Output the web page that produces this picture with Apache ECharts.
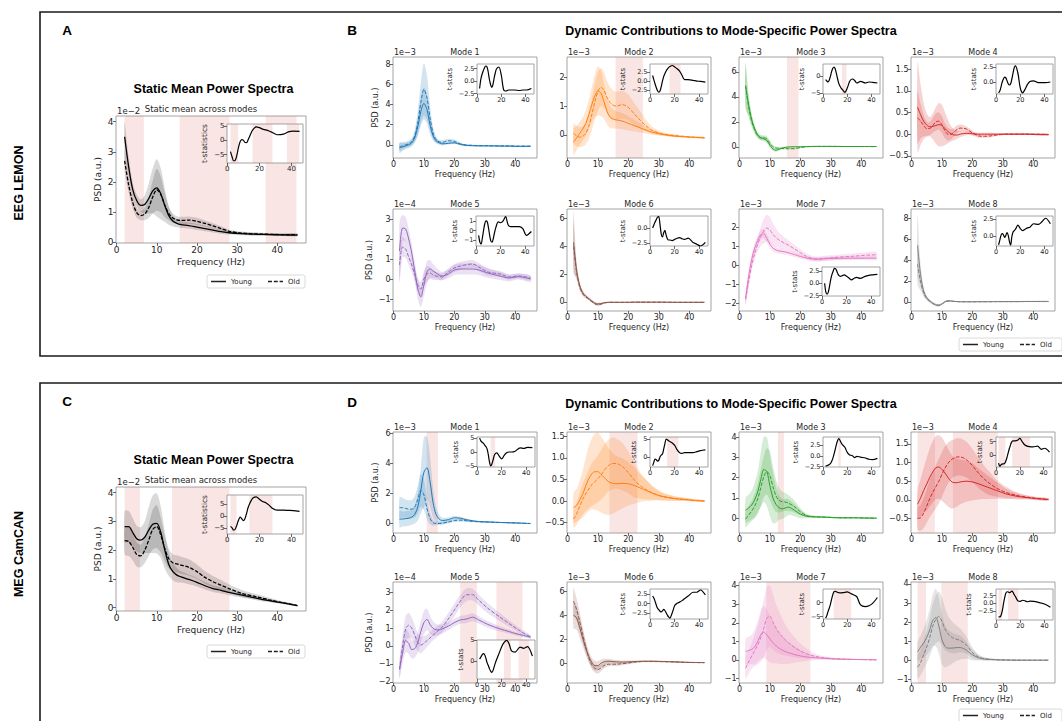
<!DOCTYPE html>
<html>
<head>
<meta charset="utf-8">
<script src="https://cdn.jsdelivr.net/npm/echarts@6.0.0/dist/echarts.min.js"></script>
<style>
  html, body { margin: 0; padding: 0; background: #ffffff; }
  #chart { width: 1062px; height: 721px; }
</style>
</head>
<body>
<div id="chart"></div>
<script>
// ---------- frequency grid and tick labels ----------
const freqs = [2,3,4,5,6,7,8,9,10,11,12,13,14,15,16,18,20,22,24,26,28,31,35,38,41,45];
const freqTicks = [0,10,20,30,40];
const insetFreqTicks = [0,20,40];
const groupNames = ['Young', 'Old'];

// ---------- EEG LEMON: static mean spectrum (x1e-2) ----------
const eegStaticYoung = [3.5,2.5,1.75,1.38,1.22,1.25,1.45,1.7,1.8,1.6,1.22,0.88,0.7,0.62,0.58,0.55,0.5,0.45,0.4,0.35,0.31,0.28,0.26,0.25,0.24,0.23];
const eegStaticOld = [2.7,1.9,1.32,0.98,0.88,0.93,1.15,1.5,1.74,1.58,1.22,0.95,0.8,0.74,0.72,0.73,0.69,0.62,0.54,0.45,0.36,0.3,0.27,0.26,0.25,0.25];
const eegStaticYoungSpread = [0.5,0.35,0.25,0.2,0.2,0.3,0.5,0.75,0.95,0.85,0.55,0.3,0.18,0.13,0.11,0.1,0.1,0.09,0.08,0.07,0.06,0.05,0.05,0.04,0.04,0.04];
const eegStaticOldSpread = [0.35,0.25,0.2,0.17,0.15,0.2,0.35,0.55,0.7,0.6,0.4,0.22,0.15,0.12,0.12,0.12,0.12,0.1,0.09,0.08,0.06,0.05,0.05,0.04,0.04,0.04];
const eegStaticT = [-4,-5.8,-7.2,-7,-5.2,-2.5,-0.5,0.3,0.1,-0.7,-0.8,0.2,1.5,2.8,3.8,4.8,4.5,4,3.7,3.3,2.8,2.0,2.2,3,3.3,3.2];
const eegStaticSig = [[2,6.8],[15.7,28.1],[37.1,44.8]];

// ---------- MEG CamCAN: static mean spectrum (x1e-2) ----------
const megStaticYoung = [2.82,2.82,2.62,2.4,2.35,2.45,2.7,2.9,2.93,2.62,2.0,1.5,1.25,1.13,1.07,0.98,0.88,0.76,0.66,0.6,0.53,0.44,0.32,0.24,0.17,0.07];
const megStaticOld = [2.33,2.3,2.1,1.85,1.8,2.0,2.35,2.72,2.82,2.52,2.05,1.7,1.56,1.52,1.48,1.4,1.25,1.05,0.9,0.78,0.66,0.5,0.37,0.27,0.18,0.07];
const megStaticYoungSpread = [0.55,0.55,0.5,0.45,0.45,0.55,0.8,1.0,1.05,0.9,0.65,0.4,0.3,0.25,0.2,0.17,0.15,0.13,0.12,0.11,0.1,0.09,0.07,0.05,0.04,0.02];
const megStaticOldSpread = [0.5,0.5,0.45,0.42,0.4,0.45,0.55,0.7,0.75,0.6,0.45,0.35,0.3,0.3,0.3,0.28,0.25,0.22,0.2,0.18,0.15,0.12,0.09,0.07,0.05,0.03];
const megStaticT = [-4.5,-5,-6,-5.5,-3.8,-1.8,-0.5,-1.2,-2,-1.2,1.0,3.5,5.2,6.5,7.5,8.0,7.0,6.0,5.5,4.5,3.2,2.4,2.4,2.3,2.2,1.9];
const megStaticSig = [[2,5.8],[13.8,28.1]];

// ---------- EEG LEMON: mode-specific spectra ----------
const eegM1Young = [-0.3,-0.2,-0.1,0.0,0.2,0.7,1.8,3.3,4.1,3.5,2.0,0.9,0.4,0.2,0.1,0.15,0.2,0.05,-0.05,-0.08,-0.1,-0.1,-0.12,-0.13,-0.15,-0.15];
const eegM1Old = [-0.2,-0.1,0.0,0.1,0.3,0.9,2.2,4.2,5.5,4.7,2.7,1.2,0.5,0.3,0.25,0.4,0.35,0.1,-0.02,-0.05,-0.07,-0.08,-0.1,-0.1,-0.12,-0.12];
const eegM1YoungSpread = [0.5,0.4,0.3,0.3,0.35,0.5,0.9,1.4,1.6,1.4,0.9,0.45,0.25,0.18,0.15,0.12,0.12,0.1,0.08,0.07,0.06,0.05,0.05,0.05,0.05,0.05];
const eegM1OldSpread = [0.4,0.35,0.3,0.3,0.35,0.6,1.2,2.0,2.6,2.2,1.3,0.6,0.3,0.2,0.2,0.2,0.18,0.12,0.08,0.07,0.06,0.05,0.05,0.05,0.05,0.05];
const eegM1T = [-1.5,0.3,1.3,2.0,2.6,3.0,2.9,2.0,0.5,-0.6,-1.3,-0.8,0.5,1.6,2.4,2.8,1.2,-1.8,-2.0,-1.8,-1.8,-1.8,-1.9,-1.8,-1.8,-1.5];
const eegM1Sig = [];

const eegM2Young = [-0.25,-0.1,0.05,0.2,0.4,0.7,1.05,1.35,1.52,1.45,1.15,0.82,0.62,0.55,0.52,0.48,0.4,0.32,0.24,0.16,0.09,0.02,-0.04,-0.06,-0.08,-0.1];
const eegM2Old = [0.05,-0.03,-0.08,-0.05,0.05,0.3,0.7,1.15,1.5,1.65,1.55,1.3,1.12,1.03,1.0,1.05,0.95,0.72,0.5,0.3,0.15,0.04,-0.02,-0.05,-0.08,-0.1];
const eegM2YoungSpread = [0.45,0.42,0.4,0.4,0.45,0.5,0.6,0.75,0.85,0.8,0.6,0.45,0.38,0.33,0.3,0.28,0.25,0.2,0.16,0.12,0.08,0.05,0.04,0.03,0.03,0.03];
const eegM2OldSpread = [0.35,0.35,0.35,0.35,0.38,0.45,0.55,0.62,0.68,0.66,0.62,0.57,0.55,0.52,0.5,0.48,0.45,0.38,0.3,0.2,0.12,0.06,0.04,0.03,0.03,0.03];
const eegM2T = [1.5,0.3,-0.8,-1.8,-2.6,-3.0,-2.7,-1.5,0,1.2,2.0,2.7,3.2,3.6,3.9,4.2,3.8,3.3,2.7,1.5,0.4,0.4,0.2,0.0,-0.1,-0.3];
const eegM2Sig = [[15.8,24.8]];

const eegM3Young = [4.9,3.4,2.2,1.45,0.95,0.72,0.65,0.5,0.12,-0.18,-0.28,-0.2,-0.1,-0.05,-0.02,0.0,0.0,0.02,0.03,0.03,0.03,0.03,0.02,0.02,0.02,0.02];
const eegM3Old = [4.9,3.2,2.05,1.35,0.88,0.72,0.72,0.62,0.3,0.0,-0.1,-0.12,-0.14,-0.15,-0.16,-0.15,-0.06,0.0,0.02,0.03,0.03,0.03,0.02,0.02,0.02,0.02];
const eegM3YoungSpread = [1.9,0.9,0.5,0.3,0.22,0.2,0.2,0.22,0.2,0.15,0.12,0.1,0.08,0.07,0.06,0.05,0.05,0.04,0.04,0.04,0.04,0.04,0.04,0.04,0.04,0.04];
const eegM3OldSpread = [1.6,0.8,0.45,0.3,0.2,0.18,0.2,0.22,0.2,0.15,0.12,0.1,0.08,0.07,0.06,0.05,0.05,0.04,0.04,0.04,0.04,0.04,0.04,0.04,0.04,0.04];
const eegM3T = [-1,-1.4,-1.7,-1.2,0,1.4,2.4,2.8,2.2,0.8,-0.8,-2.2,-3.0,-3.6,-4.0,-4.8,-3.5,-1.5,-0.8,-1.2,-2.0,-1.5,-2.0,-1.7,-1.8,-2.0];
const eegM3Sig = [[15.6,19.4]];

const eegM4Young = [0.62,0.45,0.3,0.21,0.17,0.18,0.2,0.22,0.2,0.13,0.06,0.01,-0.02,-0.02,0.0,0.02,0.01,0.0,0.0,0.0,0.0,0.0,0.0,0.0,-0.01,-0.01];
const eegM4Old = [0.38,0.3,0.2,0.13,0.13,0.2,0.28,0.3,0.22,0.08,0.0,0.0,0.05,0.11,0.14,0.12,0.03,-0.04,-0.05,-0.04,-0.02,0.0,0.0,0.0,0.0,-0.01];
const eegM4YoungSpread = [1.05,0.7,0.42,0.27,0.22,0.3,0.42,0.5,0.48,0.38,0.27,0.18,0.12,0.09,0.07,0.05,0.04,0.03,0.03,0.03,0.02,0.02,0.02,0.02,0.02,0.02];
const eegM4OldSpread = [0.6,0.4,0.25,0.17,0.15,0.17,0.2,0.2,0.2,0.17,0.15,0.12,0.1,0.09,0.08,0.06,0.05,0.04,0.03,0.03,0.02,0.02,0.02,0.02,0.02,0.02];
const eegM4T = [-1.8,-1.5,-0.8,0.0,0.5,0.8,0.7,0.2,-0.3,-0.5,-0.3,0.5,1.5,2.4,2.7,1.5,-1.0,-1.8,-1.2,-0.4,0.1,0.2,-0.1,-0.1,-0.1,0.0];
const eegM4Sig = [];

// mode 5 is in units of 1e-4
const eegM5Young = [1.4,2.55,2.5,2.0,1.3,0.4,-0.5,-0.9,-0.3,0.35,0.5,0.4,0.3,0.2,0.15,0.25,0.45,0.5,0.5,0.5,0.45,0.3,0.15,0.05,0.12,0.0];
const eegM5Old = [0.7,1.6,1.5,1.1,0.7,0.2,-0.3,-0.5,0.0,0.25,0.3,0.2,0.15,0.12,0.1,0.35,0.55,0.65,0.72,0.75,0.6,0.35,0.25,0.1,0.15,0.05];
const eegM5YoungSpread = [1.5,0.65,0.6,0.5,0.45,0.45,0.5,0.5,0.55,0.55,0.45,0.35,0.28,0.24,0.2,0.22,0.25,0.27,0.28,0.28,0.26,0.24,0.2,0.17,0.15,0.15];
const eegM5OldSpread = [0.9,0.5,0.45,0.4,0.35,0.35,0.35,0.35,0.4,0.4,0.3,0.25,0.2,0.18,0.17,0.18,0.2,0.2,0.2,0.2,0.2,0.18,0.15,0.13,0.12,0.12];
const eegM5T = [-0.5,-1.2,-1.4,-0.8,0.0,0.7,1.0,0.9,0.3,-0.5,-1.1,-1.2,-0.8,-0.2,0.3,0.9,0.8,1.0,1.45,0.6,0.4,0.4,0.4,0.2,-0.5,-0.1];
const eegM5Sig = [];

const eegM6Young = [4.3,2.3,1.2,0.68,0.42,0.25,0.07,-0.08,-0.14,-0.12,-0.06,-0.03,-0.02,-0.02,-0.02,-0.02,-0.02,-0.01,-0.01,-0.01,-0.01,-0.01,-0.02,-0.02,-0.02,-0.02];
const eegM6Old = [4.0,2.15,1.1,0.6,0.36,0.2,0.02,-0.13,-0.2,-0.16,-0.07,-0.04,-0.03,-0.03,-0.03,-0.03,-0.03,-0.02,-0.02,-0.02,-0.02,-0.02,-0.03,-0.03,-0.03,-0.03];
const eegM6YoungSpread = [2.2,0.6,0.3,0.17,0.12,0.1,0.1,0.1,0.1,0.08,0.06,0.05,0.04,0.04,0.03,0.03,0.03,0.03,0.03,0.03,0.03,0.03,0.03,0.03,0.03,0.03];
const eegM6OldSpread = [1.8,0.5,0.25,0.15,0.1,0.08,0.08,0.08,0.08,0.07,0.05,0.04,0.04,0.03,0.03,0.03,0.03,0.03,0.03,0.03,0.03,0.03,0.03,0.03,0.03,0.03];
const eegM6T = [0.0,0.5,1.0,1.4,1.8,1.9,0.6,-1.0,-1.5,-0.8,-0.4,-1.2,-1.8,-2.0,-2.0,-2.1,-1.9,-1.7,-1.6,-1.8,-1.9,-1.7,-2.4,-2.7,-3.0,-2.4];
const eegM6Sig = [];

const eegM7Young = [-1.75,-0.6,0.3,0.9,1.3,1.6,1.65,1.4,1.1,0.9,0.8,0.75,0.73,0.7,0.66,0.56,0.46,0.38,0.33,0.32,0.34,0.36,0.37,0.37,0.37,0.37];
const eegM7Old = [-1.8,-0.9,0.0,0.6,1.1,1.5,1.8,1.95,1.85,1.62,1.45,1.32,1.22,1.14,1.06,0.86,0.66,0.47,0.35,0.32,0.36,0.4,0.45,0.48,0.52,0.55];
const eegM7YoungSpread = [0.35,0.32,0.3,0.27,0.25,0.25,0.25,0.22,0.2,0.18,0.16,0.15,0.15,0.14,0.13,0.12,0.12,0.11,0.1,0.1,0.1,0.1,0.1,0.1,0.1,0.1];
const eegM7OldSpread = [0.3,0.3,0.3,0.32,0.38,0.5,0.65,0.7,0.68,0.58,0.48,0.4,0.35,0.3,0.27,0.22,0.18,0.15,0.14,0.14,0.14,0.14,0.14,0.15,0.15,0.15];
const eegM7T = [0.0,-1.8,-2.2,-1.8,-0.6,0.8,1.8,2.5,3.0,2.9,2.4,1.8,1.5,1.4,1.5,1.7,1.4,1.0,0.7,1.0,1.2,1.0,1.4,1.6,1.7,1.8];
const eegM7Sig = [];

const eegM8Young = [5.4,2.6,1.05,0.42,0.12,-0.12,-0.28,-0.33,-0.2,0.03,0.12,0.1,0.06,0.04,0.03,0.02,0.02,0.03,0.03,0.03,0.04,0.04,0.04,0.05,0.05,0.05];
const eegM8Old = [3.6,1.9,0.85,0.32,0.06,-0.14,-0.27,-0.3,-0.2,0.0,0.08,0.07,0.05,0.03,0.02,0.02,0.02,0.02,0.02,0.03,0.03,0.03,0.03,0.04,0.04,0.04];
const eegM8YoungSpread = [3.0,1.0,0.4,0.2,0.15,0.13,0.12,0.12,0.1,0.08,0.07,0.06,0.05,0.05,0.05,0.05,0.05,0.05,0.05,0.05,0.05,0.05,0.05,0.05,0.05,0.05];
const eegM8OldSpread = [2.0,0.8,0.35,0.18,0.13,0.12,0.12,0.12,0.1,0.08,0.07,0.06,0.05,0.05,0.05,0.05,0.05,0.05,0.05,0.05,0.05,0.05,0.05,0.05,0.05,0.05];
const eegM8T = [-1.3,-0.6,0.1,0.35,0.2,-0.2,0.1,0.5,0.1,-0.8,-1.3,-0.1,0.6,0.8,1.0,1.6,1.1,0.8,1.0,1.2,1.3,1.8,1.7,2.1,2.6,1.8];
const eegM8Sig = [];

// ---------- MEG CamCAN: mode-specific spectra ----------
const megM1Young = [0.28,0.3,0.32,0.35,0.42,0.6,1.1,2.2,3.4,3.7,2.8,1.4,0.6,0.3,0.2,0.25,0.38,0.35,0.25,0.18,0.13,0.1,0.07,0.05,0.03,0.0];
const megM1Old = [1.05,1.05,1.0,0.95,0.95,1.1,1.6,2.2,1.9,1.0,0.35,0.05,0.0,0.0,0.02,0.1,0.2,0.22,0.18,0.14,0.12,0.1,0.07,0.05,0.03,0.0];
const megM1YoungSpread = [0.55,0.5,0.5,0.5,0.5,0.6,0.9,1.5,2.3,2.1,1.7,1.0,0.5,0.3,0.2,0.15,0.12,0.1,0.08,0.06,0.05,0.04,0.03,0.03,0.02,0.02];
const megM1OldSpread = [0.7,0.65,0.6,0.6,0.6,0.7,0.9,1.1,1.0,0.7,0.4,0.2,0.12,0.1,0.1,0.1,0.1,0.1,0.08,0.06,0.05,0.04,0.03,0.03,0.02,0.02];
const megM1T = [5.0,4.0,3.5,3.2,2.6,2.0,1.2,-0.8,-3.5,-5.0,-4.3,-2.8,-1.2,-0.5,-0.3,-1.5,-2.5,-1.2,-0.3,0.0,0.0,0.3,1.5,1.3,1.7,1.6];
const megM1Sig = [[10.9,14.6]];

const megM2Young = [-0.15,-0.1,0.02,0.16,0.35,0.52,0.63,0.68,0.68,0.62,0.55,0.48,0.43,0.41,0.4,0.41,0.4,0.36,0.3,0.24,0.18,0.11,0.06,0.04,0.02,0.0];
const megM2Old = [-0.42,-0.3,-0.12,0.04,0.17,0.28,0.38,0.45,0.52,0.6,0.7,0.79,0.85,0.87,0.87,0.8,0.66,0.48,0.35,0.26,0.18,0.11,0.06,0.04,0.02,0.0];
const megM2YoungSpread = [0.35,0.38,0.45,0.55,0.65,0.75,0.82,0.88,0.9,0.88,0.85,0.8,0.75,0.7,0.65,0.58,0.5,0.42,0.32,0.24,0.17,0.1,0.06,0.04,0.03,0.02];
const megM2OldSpread = [0.2,0.25,0.3,0.35,0.4,0.45,0.5,0.52,0.55,0.57,0.6,0.6,0.6,0.6,0.58,0.55,0.48,0.4,0.3,0.22,0.15,0.09,0.05,0.04,0.03,0.02];
const megM2T = [-2.5,-1.5,-0.6,-0.8,-1.2,-1.0,0.0,0.5,0.8,2.2,3.8,5.1,4.9,4.6,4.4,4.0,3.3,2.0,1.2,1.0,1.2,1.2,1.2,1.5,1.8,2.0];
const megM2Sig = [[13.8,23.0]];

const megM3Young = [0.4,0.5,0.65,0.9,1.3,1.9,2.4,2.3,1.6,1.0,0.68,0.52,0.46,0.5,0.55,0.4,0.2,0.1,0.07,0.06,0.05,0.03,0.02,0.02,0.01,0.0];
const megM3Old = [-0.05,0.15,0.35,0.6,0.95,1.5,2.05,2.3,2.1,1.55,1.1,0.88,0.82,0.8,0.75,0.58,0.32,0.13,0.08,0.06,0.05,0.03,0.02,0.02,0.01,0.0];
const megM3YoungSpread = [0.6,0.65,0.7,0.85,1.0,1.35,1.6,1.7,1.5,1.25,0.9,0.6,0.5,0.45,0.4,0.3,0.2,0.1,0.06,0.05,0.04,0.03,0.03,0.02,0.02,0.02];
const megM3OldSpread = [0.4,0.45,0.5,0.6,0.75,0.9,1.0,1.15,1.2,1.0,0.8,0.6,0.5,0.45,0.4,0.3,0.18,0.08,0.05,0.04,0.04,0.03,0.03,0.02,0.02,0.02];
const megM3T = [-2.4,-2.3,-2.2,-2.0,-1.8,-1.3,-0.6,0.4,1.5,2.7,3.6,4.0,3.6,3.0,2.6,2.0,0.8,0.2,0.1,-0.4,-0.1,-0.3,-0.5,-0.8,-0.9,-0.6];
const megM3Sig = [[12.6,14.6]];

const megM4Young = [-0.12,0.05,0.25,0.42,0.6,0.75,0.86,0.88,0.82,0.72,0.6,0.5,0.46,0.46,0.48,0.5,0.48,0.43,0.37,0.31,0.25,0.16,0.09,0.06,0.03,0.01];
const megM4Old = [-0.5,-0.48,-0.36,-0.17,0.03,0.2,0.35,0.5,0.68,0.85,0.98,1.07,1.12,1.15,1.15,1.08,0.92,0.72,0.55,0.42,0.31,0.2,0.11,0.07,0.04,0.01];
const megM4YoungSpread = [0.4,0.5,0.6,0.7,0.78,0.82,0.85,0.85,0.85,0.82,0.78,0.73,0.68,0.64,0.6,0.55,0.5,0.42,0.35,0.28,0.22,0.14,0.08,0.05,0.04,0.03];
const megM4OldSpread = [0.3,0.35,0.4,0.45,0.5,0.55,0.58,0.6,0.6,0.58,0.55,0.52,0.5,0.5,0.5,0.48,0.45,0.4,0.35,0.3,0.22,0.15,0.08,0.05,0.04,0.03];
const megM4T = [-3.1,-4.3,-3.8,-3.5,-3.4,-3.3,-2.5,-1.2,0.5,2.2,3.6,4.8,5.3,5.3,5.3,5.5,6.2,5.0,3.8,3.3,3.1,3.0,3.3,2.1,2.5,1.0];
const megM4Sig = [[2,7.7],[13.6,28.4]];

// mode 5 is in units of 1e-4
const megM5Young = [-1.3,-0.4,0.3,0.15,-0.2,-0.15,0.2,0.8,1.3,1.48,1.2,0.98,0.9,0.9,0.95,1.1,1.3,1.45,1.5,1.6,1.45,1.2,0.95,0.8,0.65,0.5];
const megM5Old = [-1.3,0.0,0.95,1.15,1.0,0.6,0.2,0.05,0.15,0.3,0.45,0.6,0.75,0.9,1.05,1.5,2.0,2.5,2.85,2.85,2.55,2.1,1.6,1.25,0.9,0.5];
const megM5YoungSpread = [0.5,0.55,0.65,0.6,0.5,0.5,0.55,0.6,0.65,0.6,0.5,0.4,0.32,0.28,0.25,0.22,0.22,0.22,0.22,0.22,0.2,0.18,0.15,0.12,0.1,0.08];
const megM5OldSpread = [0.5,0.6,0.7,0.7,0.6,0.55,0.5,0.45,0.4,0.35,0.32,0.3,0.3,0.3,0.3,0.32,0.35,0.35,0.35,0.32,0.3,0.28,0.22,0.18,0.14,0.1];
const megM5T = [0.5,1.0,1.5,1.8,1.6,0.8,-0.3,-1.0,-1.8,-2.4,-2.7,-2.2,-1.2,-0.3,0.5,2.0,3.5,4.5,5.0,4.2,2.5,2.2,3.4,3.1,3.5,1.2];
const megM5Sig = [[21.9,27.4],[33.8,42.4]];

const megM6Young = [4.0,3.8,3.0,2.1,1.25,0.55,0.05,-0.22,-0.22,-0.02,0.1,0.15,0.15,0.12,0.1,0.08,0.1,0.12,0.14,0.15,0.15,0.13,0.1,0.07,0.05,0.03];
const megM6Old = [5.2,4.5,3.5,2.4,1.35,0.45,-0.15,-0.45,-0.55,-0.42,-0.22,-0.12,-0.1,-0.1,-0.1,-0.06,0.0,0.08,0.12,0.13,0.13,0.11,0.09,0.06,0.04,0.03];
const megM6YoungSpread = [1.1,1.0,0.85,0.7,0.55,0.45,0.4,0.4,0.38,0.32,0.26,0.2,0.18,0.17,0.16,0.14,0.12,0.1,0.08,0.07,0.06,0.05,0.05,0.04,0.04,0.03];
const megM6OldSpread = [1.1,0.95,0.8,0.65,0.5,0.4,0.35,0.35,0.35,0.3,0.25,0.2,0.17,0.16,0.15,0.13,0.11,0.1,0.08,0.07,0.06,0.05,0.05,0.04,0.04,0.03];
const megM6T = [2.0,1.5,0.6,-0.4,-1.2,-1.6,-2.0,-2.2,-1.9,-1.5,-1.8,-2.4,-3.0,-3.5,-3.8,-2.4,-0.5,0.1,0.4,0.8,1.3,2.0,3.0,3.0,3.6,2.3];
const megM6Sig = [];

const megM7Young = [0.45,0.5,0.56,0.7,1.0,1.35,1.5,1.35,1.12,0.92,0.76,0.63,0.53,0.45,0.39,0.29,0.21,0.16,0.12,0.1,0.08,0.05,0.03,0.02,0.01,0.0];
const megM7Old = [-0.45,-0.12,0.2,0.5,0.8,1.2,1.7,2.25,2.35,2.05,1.72,1.46,1.26,1.08,0.93,0.68,0.48,0.33,0.22,0.15,0.1,0.06,0.03,0.02,0.01,0.0];
const megM7YoungSpread = [0.7,0.75,0.8,0.95,1.1,1.3,1.4,1.35,1.25,1.1,0.95,0.85,0.75,0.68,0.6,0.45,0.32,0.22,0.15,0.1,0.08,0.05,0.04,0.03,0.02,0.02];
const megM7OldSpread = [0.6,0.65,0.7,0.85,1.05,1.3,1.55,1.7,1.65,1.5,1.3,1.15,1.0,0.85,0.72,0.55,0.4,0.28,0.18,0.12,0.08,0.05,0.04,0.03,0.02,0.02];
const megM7T = [-5.5,-4.6,-3.2,-2.0,-0.6,1.2,2.8,3.9,4.0,3.8,3.6,3.5,3.4,3.4,3.5,3.6,3.8,3.4,3.0,2.6,2.0,-0.8,-1.4,-1.1,-0.3,1.8];
const megM7Sig = [[8.8,23.3]];

const megM8Young = [0.45,0.7,0.92,1.2,1.6,2.1,2.25,1.8,1.1,0.75,0.65,0.65,0.66,0.68,0.68,0.55,0.3,0.15,0.08,0.06,0.04,0.03,0.02,0.02,0.02,0.02];
const megM8Old = [-0.35,-0.1,0.3,0.7,1.2,1.8,2.15,2.3,2.05,1.65,1.4,1.25,1.15,1.1,1.05,0.82,0.42,0.18,0.09,0.06,0.04,0.03,0.02,0.02,0.02,0.02];
const megM8YoungSpread = [0.5,0.6,0.75,0.9,1.1,1.35,1.5,1.45,1.3,1.1,0.95,0.85,0.75,0.68,0.62,0.45,0.28,0.15,0.08,0.06,0.04,0.03,0.03,0.02,0.02,0.02];
const megM8OldSpread = [0.6,0.65,0.75,0.85,1.0,1.15,1.25,1.3,1.25,1.1,0.95,0.85,0.78,0.7,0.62,0.45,0.28,0.14,0.08,0.05,0.04,0.03,0.03,0.02,0.02,0.02];
const megM8T = [-4.5,-4.5,-4.0,-2.6,-0.3,1.8,3.3,3.8,3.7,3.5,3.7,4.0,3.6,2.8,2.2,0.8,0.6,1.0,0.8,0.5,0.7,0.6,0.3,0.0,-0.4,-1.3];
const megM8Sig = [[2,4.8],[9.8,18.5]];

// ---------- styling ----------
const FONT = '"DejaVu Sans", sans-serif';
const BOLD = '"Liberation Sans", Arial, sans-serif';
const TXT = '#262626';
const SIG_FILL = 'rgba(228,118,118,0.19)';
const SMOOTH = 0.3;
const modeColors = ['#1f77b4','#ff7f0e','#2ca02c','#d62728','#9467bd','#8c564b','#e377c2','#7f7f7f'];

// ---------- layout: one entry per axes ----------
const colX = [393, 567, 739, 911];
const PW = 144;
const panels = [
  { stat:true, young:eegStaticYoung, old:eegStaticOld, youngSpread:eegStaticYoungSpread, oldSpread:eegStaticOldSpread, t:eegStaticT, sig:eegStaticSig,
    title:'Static mean across modes', titleX:201, offset:'1e\u22122', box:[116,116,190,127], yRange:[-0.03,4.19], yTicks:[0,1,2,3,4], yDec:0,
    inset:[227,124,76,39], tRange:[-8,5.8], tTicks:[-5,0,5], tDec:0 },
  { stat:true, young:megStaticYoung, old:megStaticOld, youngSpread:megStaticYoungSpread, oldSpread:megStaticOldSpread, t:megStaticT, sig:megStaticSig,
    title:'Static mean across modes', titleX:201, offset:'1e\u22122', box:[116,487,190,124], yRange:[-0.12,4.2], yTicks:[0,1,2,3,4], yDec:0,
    inset:[227,495,76,39], tRange:[-7.6,8.75], tTicks:[-5,0,5], tDec:0 },

  { young:eegM1Young, old:eegM1Old, youngSpread:eegM1YoungSpread, oldSpread:eegM1OldSpread, t:eegM1T, sig:eegM1Sig, mode:1, offset:'1e\u22123', psd:true,
    box:[colX[0],57,PW,101], yRange:[-1.3,8.7], yTicks:[0,2,4,6,8], yDec:0, inset:[477,64,57,30], tRange:[-2.6,3.4], tTicks:[-2.5,0,2.5], tDec:1 },
  { young:eegM2Young, old:eegM2Old, youngSpread:eegM2YoungSpread, oldSpread:eegM2OldSpread, t:eegM2T, sig:eegM2Sig, mode:2, offset:'1e\u22123',
    box:[colX[1],57,PW,101], yRange:[-0.8,2.7], yTicks:[0,1,2], yDec:0, inset:[650,64,58,30], tRange:[-3.5,4.6], tTicks:[-2.5,0,2.5], tDec:1 },
  { young:eegM3Young, old:eegM3Old, youngSpread:eegM3YoungSpread, oldSpread:eegM3OldSpread, t:eegM3T, sig:eegM3Sig, mode:3, offset:'1e\u22123',
    box:[colX[2],57,PW,101], yRange:[-0.9,7.2], yTicks:[0,2,4,6], yDec:0, inset:[823,64,57,30], tRange:[-5.3,3.7], tTicks:[-5,0], tDec:0 },
  { young:eegM4Young, old:eegM4Old, youngSpread:eegM4YoungSpread, oldSpread:eegM4OldSpread, t:eegM4T, sig:eegM4Sig, mode:4, offset:'1e\u22123',
    box:[colX[3],57,PW,101], yRange:[-0.55,1.78], yTicks:[-0.5,0,0.5,1,1.5], yDec:1, inset:[996,64,57,30], tRange:[-2.0,3.0], tTicks:[0,2.5], tDec:1 },
  { young:eegM5Young, old:eegM5Old, youngSpread:eegM5YoungSpread, oldSpread:eegM5OldSpread, t:eegM5T, sig:eegM5Sig, mode:5, offset:'1e\u22124', psd:true,
    box:[colX[0],209,PW,102], yRange:[-1.6,3.5], yTicks:[-1,0,1,2,3], yDec:0, inset:[476,216,58,30], tRange:[-1.6,1.5], tTicks:[-1,0,1], tDec:0 },
  { young:eegM6Young, old:eegM6Old, youngSpread:eegM6YoungSpread, oldSpread:eegM6OldSpread, t:eegM6T, sig:eegM6Sig, mode:6, offset:'1e\u22123',
    box:[colX[1],209,PW,102], yRange:[-0.65,6.7], yTicks:[0,2,4,6], yDec:0, inset:[650,216,58,30], tRange:[-3.0,2.0], tTicks:[-2.5,0], tDec:1 },
  { young:eegM7Young, old:eegM7Old, youngSpread:eegM7YoungSpread, oldSpread:eegM7OldSpread, t:eegM7T, sig:eegM7Sig, mode:7, offset:'1e\u22123',
    box:[colX[2],209,PW,102], yRange:[-2.4,2.95], yTicks:[-2,-1,0,1,2], yDec:0, inset:[822,267,58,29], tRange:[-2.6,3.3], tTicks:[-2.5,0,2.5], tDec:1 },
  { young:eegM8Young, old:eegM8Old, youngSpread:eegM8YoungSpread, oldSpread:eegM8OldSpread, t:eegM8T, sig:eegM8Sig, mode:8, offset:'1e\u22123',
    box:[colX[3],209,PW,102], yRange:[-0.86,8.86], yTicks:[0,2,4,6,8], yDec:0, inset:[996,216,57,30], tRange:[-1.45,2.93], tTicks:[0,2.5], tDec:1 },

  { young:megM1Young, old:megM1Old, youngSpread:megM1YoungSpread, oldSpread:megM1OldSpread, t:megM1T, sig:megM1Sig, mode:1, offset:'1e\u22123', psd:true,
    box:[colX[0],432,PW,101], yRange:[-0.63,6.07], yTicks:[0,2,4,6], yDec:0, inset:[477,437,58,30], tRange:[-5.4,5.4], tTicks:[-5,0,5], tDec:0 },
  { young:megM2Young, old:megM2Old, youngSpread:megM2YoungSpread, oldSpread:megM2OldSpread, t:megM2T, sig:megM2Sig, mode:2, offset:'1e\u22123',
    box:[colX[1],432,PW,101], yRange:[-0.74,1.6], yTicks:[-0.5,0,0.5,1,1.5], yDec:1, inset:[650,437,58,30], tRange:[-2.9,5.7], tTicks:[0,5], tDec:0 },
  { young:megM3Young, old:megM3Old, youngSpread:megM3YoungSpread, oldSpread:megM3OldSpread, t:megM3T, sig:megM3Sig, mode:3, offset:'1e\u22123',
    box:[colX[2],432,PW,101], yRange:[-0.73,4.25], yTicks:[0,1,2,3,4], yDec:0, inset:[823,437,57,30], tRange:[-2.6,4.4], tTicks:[-2.5,0,2.5], tDec:1 },
  { young:megM4Young, old:megM4Old, youngSpread:megM4YoungSpread, oldSpread:megM4OldSpread, t:megM4T, sig:megM4Sig, mode:4, offset:'1e\u22123',
    box:[colX[3],432,PW,101], yRange:[-0.89,1.82], yTicks:[-0.5,0,0.5,1,1.5], yDec:1, inset:[996,437,56,30], tRange:[-4.6,6.75], tTicks:[0,5], tDec:0 },
  { young:megM5Young, old:megM5Old, youngSpread:megM5YoungSpread, oldSpread:megM5OldSpread, t:megM5T, sig:megM5Sig, mode:5, offset:'1e\u22124', psd:true,
    box:[colX[0],582,PW,101], yRange:[-2.06,3.56], yTicks:[-2,-1,0,1,2,3], yDec:0, inset:[477,640,58,39], tRange:[-4.3,5.1], tTicks:[0,5], tDec:0 },
  { young:megM6Young, old:megM6Old, youngSpread:megM6YoungSpread, oldSpread:megM6OldSpread, t:megM6T, sig:megM6Sig, mode:6, offset:'1e\u22123',
    box:[colX[1],582,PW,101], yRange:[-1.68,6.81], yTicks:[0,2,4,6], yDec:0, inset:[650,589,58,30], tRange:[-4.04,3.86], tTicks:[-2.5,0,2.5], tDec:1 },
  { young:megM7Young, old:megM7Old, youngSpread:megM7YoungSpread, oldSpread:megM7OldSpread, t:megM7T, sig:megM7Sig, mode:7, offset:'1e\u22123',
    box:[colX[2],582,PW,101], yRange:[-1.25,4.2], yTicks:[-1,0,1,2,3,4], yDec:0, inset:[823,589,57,30], tRange:[-5.8,4.8], tTicks:[-5,0], tDec:0 },
  { young:megM8Young, old:megM8Old, youngSpread:megM8YoungSpread, oldSpread:megM8OldSpread, t:megM8T, sig:megM8Sig, mode:8, offset:'1e\u22123',
    box:[colX[3],582,PW,101], yRange:[-1.17,4.1], yTicks:[-1,0,1,2,3,4], yDec:0, inset:[996,589,57,31], tRange:[-5.5,4.7], tTicks:[-2.5,0,2.5], tDec:1 }
];

// ---------- helpers ----------
const grids = [], xAxes = [], yAxes = [], series = [], graphics = [];

function tickFormat(dec) {
  return v => (dec ? Number(v).toFixed(dec) : String(Math.round(v))).replace('-', '\u2212');
}
// rough DejaVu Sans advance widths for tick strings
function tickWidth(s, fs) {
  let w = 0;
  for (const ch of s) w += ch === '.' ? 0.318 : (ch === '\u2212' ? 0.838 : 0.636);
  return w * fs;
}
function pairs(vals) { return freqs.map((f, k) => [f, vals[k]]); }

function addCartesian(o) {
  const gi = grids.length;
  const [l, t, w, h] = o.box;
  grids.push({ left:l, top:t, width:w, height:h, show:true, borderColor:'#8e8e8e', borderWidth:0.8,
               backgroundColor: o.inset ? '#ffffff' : 'rgba(0,0,0,0)', z: o.inset ? 5 : 0 });
  const tick = { show:true, length:3, inside:false, lineStyle:{ color:'#444444', width:0.8 } };
  const label = { show:true, fontSize:o.fs, color:TXT, fontFamily:FONT, margin:2.5 };
  const nameStyle = { fontSize:o.nameFs, color:TXT, fontFamily:FONT };
  xAxes.push({
    type:'value', gridIndex:gi, min:-0.15, max:47.15, z: o.inset ? 6 : 1, position:'bottom',
    axisLine:{ show:false, onZero:false }, splitLine:{ show:false },
    axisTick:Object.assign({ customValues:o.xTicks }, tick),
    axisLabel:Object.assign({ customValues:o.xTicks, formatter:v => String(Math.round(v)) }, label),
    name:o.xName || '', nameLocation:'middle', nameGap:o.xGap || 0, nameTextStyle:nameStyle
  });
  const fmt = tickFormat(o.yDec);
  const wMax = Math.max.apply(null, o.yTicks.map(v => tickWidth(fmt(v), o.fs)));
  yAxes.push({
    type:'value', gridIndex:gi, min:o.yRange[0], max:o.yRange[1], z: o.inset ? 6 : 1, position:'left',
    axisLine:{ show:false, onZero:false }, splitLine:{ show:false },
    axisTick:Object.assign({ customValues:o.yTicks }, tick),
    axisLabel:Object.assign({ customValues:o.yTicks, formatter:fmt }, label),
    name:o.yName || '', nameLocation:'middle', nameRotate:90, nameGap:3 + 2.5 + wMax + 2.5, nameTextStyle:nameStyle
  });
  return gi;
}

// shaded spread around a group mean, mapped through the axes of grid ai
function bandSeries(ai, mean, spread, color, opacity) {
  return {
    type:'custom', xAxisIndex:ai, yAxisIndex:ai, silent:true, z:2,
    data:[[freqs[0], mean[0]]],
    renderItem: (params, api) => {
      const upper = freqs.map((f, k) => api.coord([f, mean[k] + spread[k]]));
      const lower = freqs.map((f, k) => api.coord([f, mean[k] - spread[k]])).reverse();
      return { type:'polygon', shape:{ points:upper.concat(lower), smooth:SMOOTH },
               style:{ fill:color, opacity:opacity } };
    }
  };
}

function sigAreas(sig, z) {
  return { silent:true, z:z, itemStyle:{ color:SIG_FILL }, data: sig.map(r => [{ xAxis:r[0] }, { xAxis:r[1] }]) };
}

function addText(x, y, text, opt) {
  graphics.push({
    type:'text', x:x, y:y, z:20, rotation:opt.rotation || 0, silent:true,
    style:{ text:text, fill:opt.color || TXT, fontSize:opt.size, fontFamily:opt.family || FONT,
            fontWeight:opt.weight || 'normal', align:opt.align || 'center', verticalAlign:opt.valign || 'middle' }
  });
}

function addPanel(p) {
  const stat = !!p.stat;
  const fs = stat ? 9 : 8;
  const lw = stat ? 1.3 : 1.0;
  const color = stat ? '#000000' : modeColors[p.mode - 1];
  const bandAlpha = stat ? 0.15 : 0.2;
  const ai = addCartesian({ box:p.box, xTicks:freqTicks, yRange:p.yRange, yTicks:p.yTicks, yDec:p.yDec,
                            fs:fs, nameFs:fs, xName:'Frequency (Hz)', xGap: stat ? 14 : 12.5,
                            yName: (stat || p.psd) ? 'PSD (a.u.)' : '', inset:false });
  series.push(bandSeries(ai, p.old, p.oldSpread, color, bandAlpha));
  series.push(bandSeries(ai, p.young, p.youngSpread, color, bandAlpha));
  series.push({ type:'line', name:groupNames[0], xAxisIndex:ai, yAxisIndex:ai, data:pairs(p.young), symbol:'none',
                smooth:SMOOTH, silent:true, z:3, lineStyle:{ color:color, width:lw },
                markArea: p.sig.length ? sigAreas(p.sig, 1) : undefined });
  series.push({ type:'line', name:groupNames[1], xAxisIndex:ai, yAxisIndex:ai, data:pairs(p.old), symbol:'none',
                smooth:SMOOTH, silent:true, z:3, lineStyle:{ color:color, width:lw, type:[3.7, 1.6] } });

  // inset with the t-statistic of the group difference
  const bi = addCartesian({ box:p.inset, xTicks:insetFreqTicks, yRange:p.tRange, yTicks:p.tTicks, yDec:p.tDec,
                            fs: stat ? 7 : 6.5, nameFs: stat ? 7.5 : 7, yName: stat ? 't-statistics' : 't-stats', inset:true });
  series.push({ type:'line', xAxisIndex:bi, yAxisIndex:bi, data:pairs(p.t), symbol:'none', smooth:SMOOTH, silent:true,
                z:7, lineStyle:{ color:'#000000', width:1.2 },
                markArea: p.sig.length ? sigAreas(p.sig, 6) : undefined });

  // axes title and exponent
  const [l, t, w] = p.box;
  if (stat) {
    addText(p.titleX, t - 7, p.title, { size:8.5 });
    addText(l + 1, t - 1, p.offset, { size:8.5, align:'left', valign:'bottom' });
  } else {
    addText(l + w / 2, t - 1, 'Mode ' + p.mode, { size:8, valign:'bottom' });
    addText(l + 1, t - 0.5, p.offset, { size:8, align:'left', valign:'bottom' });
  }
}

function addLegend(x, y, w, h, fs) {
  const cy = y + h / 2;
  graphics.push({ type:'rect', z:19, silent:true, shape:{ x:x, y:y, width:w, height:h, r:2 },
                  style:{ fill:'#ffffff', stroke:'#d0d0d0', lineWidth:0.8 } });
  graphics.push({ type:'line', z:20, silent:true, shape:{ x1:x + 4, y1:cy, x2:x + 19, y2:cy },
                  style:{ stroke:'#222222', lineWidth:1.5 } });
  graphics.push({ type:'line', z:20, silent:true, shape:{ x1:x + 61, y1:cy, x2:x + 76, y2:cy },
                  style:{ stroke:'#222222', lineWidth:1.5, lineDash:[4, 1.8] } });
  addText(x + 24, cy, groupNames[0], { size:fs, align:'left' });
  addText(x + 81, cy, groupNames[1], { size:fs, align:'left' });
}

panels.forEach(addPanel);

// outer frames of the two dataset rows (right side runs off the page)
graphics.push({ type:'rect', z:0, silent:true, shape:{ x:40, y:12, width:1040, height:344 },
                style:{ fill:'none', stroke:'#1a1a1a', lineWidth:1.6 } });
graphics.push({ type:'rect', z:0, silent:true, shape:{ x:40, y:383, width:1040, height:400 },
                style:{ fill:'none', stroke:'#1a1a1a', lineWidth:1.6 } });

// row labels, panel letters, panel titles
addText(19, 183, 'EEG LEMON', { size:12.5, weight:'bold', family:BOLD, color:'#000', rotation:Math.PI / 2 });
addText(19, 554, 'MEG CamCAN', { size:12.5, weight:'bold', family:BOLD, color:'#000', rotation:Math.PI / 2 });
addText(67, 30, 'A', { size:13.5, weight:'bold', family:BOLD, color:'#000' });
addText(352, 30, 'B', { size:13.5, weight:'bold', family:BOLD, color:'#000' });
addText(67, 401, 'C', { size:13.5, weight:'bold', family:BOLD, color:'#000' });
addText(352, 402, 'D', { size:13.5, weight:'bold', family:BOLD, color:'#000' });
addText(213.5, 89, 'Static Mean Power Spectra', { size:12.5, weight:'bold', family:BOLD, color:'#000' });
addText(213.5, 460, 'Static Mean Power Spectra', { size:12.5, weight:'bold', family:BOLD, color:'#000' });
addText(731, 31, 'Dynamic Contributions to Mode-Specific Power Spectra', { size:12.5, weight:'bold', family:BOLD, color:'#000' });
addText(731, 404, 'Dynamic Contributions to Mode-Specific Power Spectra', { size:12.5, weight:'bold', family:BOLD, color:'#000' });

addLegend(207, 275, 98, 13, 7);
addLegend(207, 645, 98, 13, 7);
addLegend(959, 338, 103, 13, 7);
addLegend(959, 709, 103, 13, 7);

const chart = echarts.init(document.getElementById('chart'), null, { renderer:'svg', width:1062, height:721 });
chart.setOption({
  animation:false,
  backgroundColor:'#ffffff',
  grid:grids,
  xAxis:xAxes,
  yAxis:yAxes,
  series:series,
  graphic:{ elements:graphics }
});
</script>
</body>
</html>
